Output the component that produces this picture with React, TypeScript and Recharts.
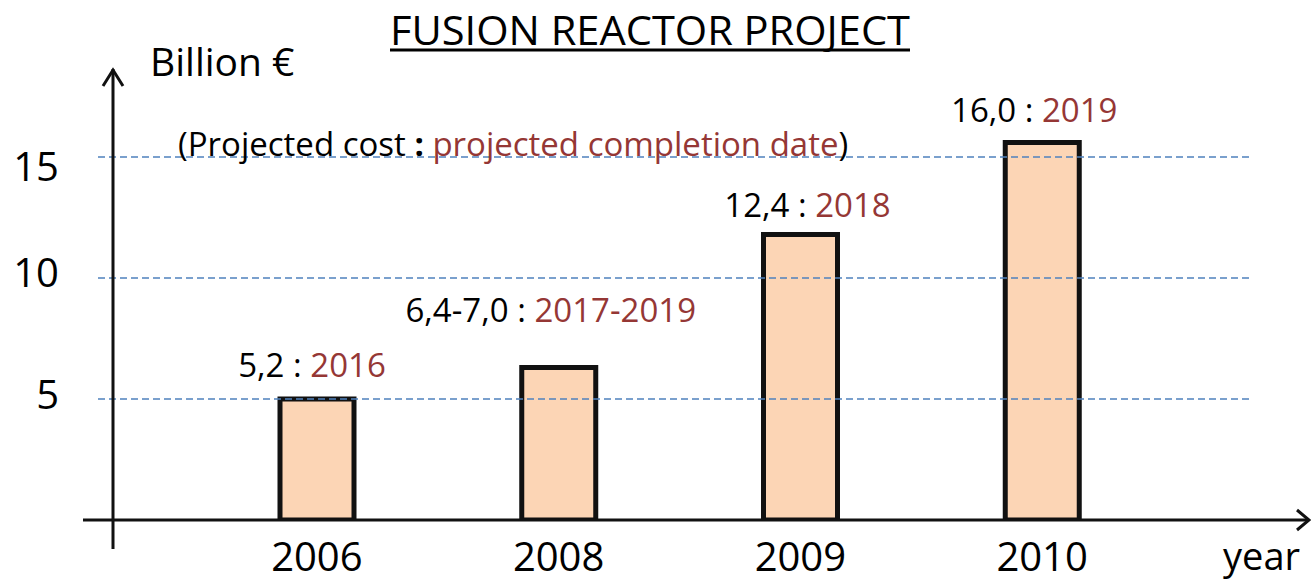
import React from 'react';
import { BarChart, Bar, XAxis, YAxis, ReferenceLine, LabelList } from 'recharts';

const years = ['2006', '2008', '2009', '2010'];
const barValues = [5.0, 6.3, 11.8, 15.6];
const costLabels = ['5,2', '6,4-7,0', '12,4', '16,0'];
const dateLabels = ['2016', '2017-2019', '2018', '2019'];
const yTicks = [5, 10, 15];

const data = years.map((y, i) => ({ year: y, value: barValues[i] }));

const FONT = '"Open Sans", sans-serif';
const RED = '#953735';
const LABEL_LIFT = [22, 46, 17, 20];
const LABEL_DX = [-5, -8, 7, -8];
const YTICK_DY: Record<number, number> = { 5: 10, 10: 9, 15: 24 };

const BarLabel = (props: any) => {
  const { x, y, width, index } = props;
  const cx = Number(x) + Number(width) / 2 + LABEL_DX[index];
  const by = Number(y) - LABEL_LIFT[index];
  return (
    <text x={cx} y={by} textAnchor="middle" fontFamily={FONT} fontSize={33} fill="#000">
      <tspan>{`${costLabels[index]} : `}</tspan>
      <tspan fill={RED}>{dateLabels[index]}</tspan>
    </text>
  );
};

const XTick = (props: any) => {
  const { x, y, payload } = props;
  return (
    <text x={x} y={Number(y) + 51} textAnchor="middle" fontFamily={FONT} fontSize={40} fill="#000">
      {payload.value}
    </text>
  );
};

const YTick = (props: any) => {
  const { y, payload } = props;
  return (
    <text x={59} y={Number(y) + (YTICK_DY[payload.value] ?? 10)} textAnchor="end" fontFamily={FONT} fontSize={40} fill="#000">
      {payload.value}
    </text>
  );
};

export default function App() {
  return (
    <div style={{ position: 'absolute', left: 0, top: 0, width: 1311, height: 582, background: '#fff' }}>
      <BarChart
        width={1311}
        height={582}
        data={data}
        margin={{ top: 36, right: 61, bottom: 0, left: 0 }}
      >
        {yTicks.map((t) => (
          <ReferenceLine key={t} y={t} stroke="#4F81BD" strokeDasharray="7 4" strokeWidth={1.5} />
        ))}
        <XAxis
          dataKey="year"
          padding={{ left: 98, right: 87 }}
          axisLine={false}
          tickLine={false}
          tickSize={0}
          tickMargin={0}
          height={62}
          tick={<XTick />}
          interval={0}
        />
        <YAxis
          domain={[0, 20]}
          ticks={yTicks}
          width={98}
          axisLine={false}
          tickLine={false}
          tick={<YTick />}
          allowDataOverflow
        />
        <Bar dataKey="value" barSize={74} fill="#FCD5B5" stroke="#111" strokeWidth={5} isAnimationActive={false}>
          <LabelList dataKey="value" content={<BarLabel />} />
        </Bar>
      </BarChart>
      <svg width={1311} height={582} style={{ position: 'absolute', left: 0, top: 0, pointerEvents: 'none' }}>
        <text x={650} y={45} textAnchor="middle" fontFamily={FONT} fontSize={41} textLength={520} lengthAdjust="spacingAndGlyphs" fill="#000">
          FUSION REACTOR PROJECT
        </text>
        <line x1={390} x2={910} y1={50} y2={50} stroke="#000" strokeWidth={3} />
        <text x={150} y={76} fontFamily={FONT} fontSize={39} fill="#000">Billion €</text>
        <text x={178} y={156} fontFamily={FONT} fontSize={33} fill="#000">
          (Projected cost <tspan fontWeight="bold">:</tspan> <tspan fill={RED}>projected completion date</tspan>)
        </text>
        <line x1={83} x2={1309} y1={520} y2={520} stroke="#111" strokeWidth={3} />
        <polyline points="1297,510 1309,520 1297,530" fill="none" stroke="#111" strokeWidth={3} />
        <line x1={113} x2={113} y1={549} y2={69} stroke="#111" strokeWidth={3} />
        <polyline points="103,86 113,70 123,86" fill="none" stroke="#111" strokeWidth={3} />
        <text x={1223} y={570} fontFamily={FONT} fontSize={38} fill="#000">year</text>
      </svg>
    </div>
  );
}
